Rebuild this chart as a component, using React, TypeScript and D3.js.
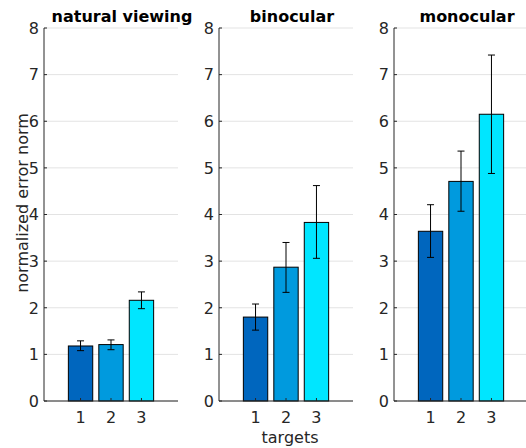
import React from "react";
import { scaleLinear } from "d3";

const W = 526, H = 448;

const titles = ["natural viewing", "binocular", "monocular"];
const targets = [1, 2, 3];
const yTicks = [0, 1, 2, 3, 4, 5, 6, 7, 8];
const barColors = ["#0066be", "#009ade", "#00e6ff"];

// mean, lower and upper end of error bar, per panel
const naturalMean = [1.18, 1.21, 2.16];
const naturalLow = [1.08, 1.10, 1.98];
const naturalHigh = [1.29, 1.31, 2.34];

const binoMean = [1.80, 2.87, 3.83];
const binoLow = [1.52, 2.33, 3.06];
const binoHigh = [2.08, 3.40, 4.62];

const monoMean = [3.64, 4.71, 6.15];
const monoLow = [3.08, 4.07, 4.88];
const monoHigh = [4.21, 5.36, 7.42];

const panels = [
  { mean: naturalMean, low: naturalLow, high: naturalHigh, left: 44, titleX: 122 },
  { mean: binoMean, low: binoLow, high: binoHigh, left: 219, titleX: 292 },
  { mean: monoMean, low: monoLow, high: monoHigh, left: 394, titleX: 467 },
];

const panelW = 134;
const top = 28, bottom = 401;
const font = "'DejaVu Sans', sans-serif";
const axisColor = "#262626";
const fs = 16;

const y = scaleLinear().domain([0, 8]).range([bottom, top]);

const Panel = ({ p, title }) => {
  const x = scaleLinear().domain([-0.2, 4.2]).range([p.left, p.left + panelW]);
  const step = x(1) - x(0);
  const bw = step * 0.8;
  return (
    <g>
      {yTicks.map(t => (
        <line key={"g" + t} x1={p.left} x2={p.left + panelW} y1={y(t)} y2={y(t)}
          stroke="#e3e3e3" strokeWidth={1} />
      ))}
      {targets.map((d, i) => (
        <rect key={"b" + d} x={x(d) - bw / 2} y={y(p.mean[i])} width={bw}
          height={y(0) - y(p.mean[i])} fill={barColors[i]} stroke="#000" strokeWidth={1} />
      ))}
      {targets.map((d, i) => (
        <g key={"e" + d} stroke="#000" strokeWidth={1}>
          <line x1={x(d)} x2={x(d)} y1={y(p.low[i])} y2={y(p.high[i])} />
          <line x1={x(d) - 3.5} x2={x(d) + 3.5} y1={y(p.low[i])} y2={y(p.low[i])} />
          <line x1={x(d) - 3.5} x2={x(d) + 3.5} y1={y(p.high[i])} y2={y(p.high[i])} />
        </g>
      ))}
      <line x1={p.left} x2={p.left} y1={top} y2={bottom} stroke={axisColor} strokeWidth={1} />
      <line x1={p.left} x2={p.left + panelW} y1={bottom} y2={bottom} stroke={axisColor} strokeWidth={1} />
      {yTicks.map(t => (
        <g key={"t" + t}>
          <line x1={p.left} x2={p.left + 3} y1={y(t)} y2={y(t)} stroke={axisColor} />
          <text x={p.left - 5} y={y(t)} dy="0.36em" textAnchor="end" fontSize={fs}
            fill={axisColor} fontFamily={font}>{t}</text>
        </g>
      ))}
      {targets.map(d => (
        <g key={"x" + d}>
          <line x1={x(d)} x2={x(d)} y1={bottom} y2={bottom - 3} stroke={axisColor} />
          <text x={x(d)} y={423} textAnchor="middle" fontSize={fs}
            fill={axisColor} fontFamily={font}>{d}</text>
        </g>
      ))}
      <text x={p.titleX} y={22} textAnchor="middle" fontSize={fs} fontWeight="bold"
        fill="#000" fontFamily={font}>{title}</text>
    </g>
  );
};

export default function App() {
  return (
    <svg width={W} height={H} style={{ position: "absolute", left: 0, top: 0 }}>
      <rect width={W} height={H} fill="#fff" />
      {panels.map((p, i) => <Panel key={i} p={p} title={titles[i]} />)}
      <text transform={`translate(28,203) rotate(-90)`} textAnchor="middle" fontSize={fs}
        fill={axisColor} fontFamily={font}>normalized error norm</text>
      <text x={290} y={443} textAnchor="middle" fontSize={fs}
        fill={axisColor} fontFamily={font}>targets</text>
    </svg>
  );
}
